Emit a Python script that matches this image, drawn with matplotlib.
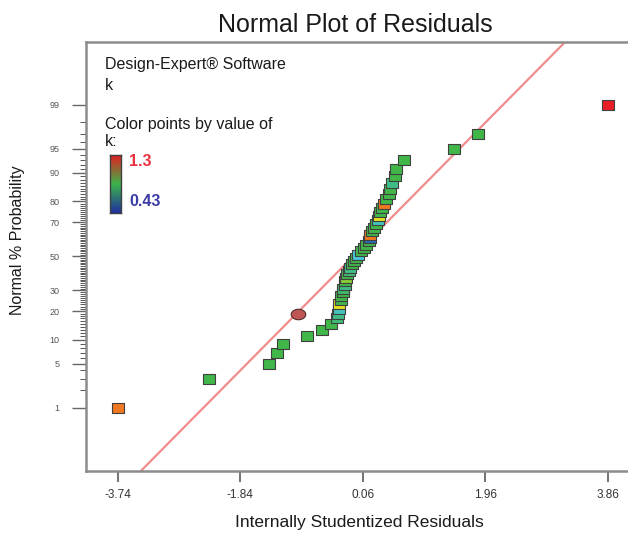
import numpy as np
import matplotlib
matplotlib.use("Agg")
import matplotlib.pyplot as plt
from matplotlib.path import Path
from matplotlib.colors import LinearSegmentedColormap, Normalize
from statistics import NormalDist

plt.rcParams['font.family'] = ['Liberation Sans', 'DejaVu Sans']

# ---------------- data ----------------
residuals = [-3.74, -2.32, -1.39, -1.27, -1.17, -0.80, -0.57, -0.43, -0.34, -0.32,
             -0.31, -0.30, -0.28, -0.27, -0.25, -0.24, -0.22, -0.21, -0.20, -0.18,
             -0.16, -0.13, -0.10, -0.07, -0.04, -0.02, 0.03, 0.08, 0.11, 0.15,
             0.17, 0.18, 0.21, 0.23, 0.26, 0.29, 0.31, 0.33, 0.36, 0.39,
             0.42, 0.46, 0.49, 0.51, 0.56, 0.57, 0.70, 1.47, 1.85, 3.86]
prob_pct = [1, 3, 5, 7, 9, 11, 13, 15, 17, 19, 21, 23, 25, 27, 29, 31, 33, 35, 37, 39,
            41, 43, 45, 47, 49, 51, 53, 55, 57, 59, 61, 63, 65, 67, 69, 71, 73, 75, 77, 79,
            81, 83, 85, 87, 89, 91, 93, 95, 97, 99]
k_values = [1.20, 0.87, 0.87, 0.87, 0.87, 0.87, 0.87, 0.87, 0.80, 0.78,
            0.70, 1.06, 0.87, 0.87, 0.87, 0.82, 0.78, 0.87, 0.96, 0.87,
            0.80, 0.78, 0.87, 0.87, 0.87, 0.66, 0.87, 0.87, 0.87, 0.87,
            0.50, 1.20, 0.87, 0.87, 0.87, 0.70, 1.06, 0.87, 0.87, 1.20,
            0.87, 0.87, 0.87, 0.78, 0.87, 0.87, 0.87, 0.87, 0.87, 1.30]
highlight_residual = [-0.95]
highlight_prob = [18.7]
line_mean = -0.087
line_sd = 1.0
k_min, k_max = 0.43, 1.3
x_ticks = [-3.74, -1.84, 0.06, 1.96, 3.86]
y_ticks = [1, 5, 10, 20, 30, 50, 70, 80, 90, 95, 99]

# ---------------- figure ----------------
W, H = 628, 533
fig = plt.figure(figsize=(W / 100, H / 100), dpi=100)
fig.patch.set_facecolor('white')

xlim = (-4.23, 4.35)
px_per_x = 64.5
ax_left, ax_top, ax_bottom = 86, 42, 470.5
ax_w = (xlim[1] - xlim[0]) * px_per_x
ax = fig.add_axes([ax_left / W, (H - ax_bottom) / H, ax_w / W, (ax_bottom - ax_top) / H])

nd = NormalDist()
_ppf = np.vectorize(nd.inv_cdf, otypes=[float])
_cdf = np.vectorize(nd.cdf, otypes=[float])


def fwd(p):
    p = np.clip(np.asarray(p, dtype=float) / 100.0, 1e-12, 1 - 1e-12)
    return _ppf(p)


def inv(z):
    return _cdf(np.asarray(z, dtype=float)) * 100.0


ax.set_yscale('function', functions=(fwd, inv))
zlim = 3.285
ax.set_ylim(nd.cdf(-zlim) * 100, nd.cdf(zlim) * 100)
ax.set_xlim(*xlim)

# reference line
zz = np.array([-3.5, 3.5])
ax.plot(line_mean + line_sd * zz, inv(zz), color='#f08c8c', lw=1.6, zorder=2,
        clip_on=True)

# colormap for points
cmap = LinearSegmentedColormap.from_list(
    'dx', [(0.0, '#1f3f9f'), (0.25, '#45c8e0'), (0.5, '#3db54a'),
           (0.75, '#f5e61e'), (1.0, '#e81e25')])
norm = Normalize(k_min, k_max)

rect = Path([(-1, -0.74), (1, -0.74), (1, 0.74), (-1, 0.74), (-1, -0.74)],
            [Path.MOVETO, Path.LINETO, Path.LINETO, Path.LINETO, Path.CLOSEPOLY])
for xv, pv, kv in zip(residuals, prob_pct, k_values):
    ax.plot([xv], [pv], linestyle='none', marker=rect, markersize=9.3,
            markerfacecolor=cmap(norm(kv)), markeredgecolor='#404040',
            markeredgewidth=0.8, zorder=3)

t = np.linspace(0, 2 * np.pi, 40)
ell = Path(np.column_stack([np.cos(t), 0.72 * np.sin(t)]))
ax.plot(highlight_residual, highlight_prob, linestyle='none', marker=ell,
        markersize=10.5, markerfacecolor='#c05555', markeredgecolor='#503030',
        markeredgewidth=0.8, zorder=3)

# spines
for s in ['left', 'bottom', 'top']:
    ax.spines[s].set_color('#8c8c8c')
    ax.spines[s].set_linewidth(1.8)
ax.spines['right'].set_visible(False)

# x ticks
ax.set_xticks(x_ticks)
ax.set_xticklabels([f'{v:.2f}' for v in x_ticks])
ax.tick_params(axis='x', which='major', direction='out', length=8, width=1.5,
               color='#777777', labelsize=8.5, labelcolor='#333333', pad=5)
ax.xaxis.set_minor_locator(matplotlib.ticker.NullLocator())

# y ticks
ax.set_yticks(y_ticks)
ax.set_yticklabels([str(v) for v in y_ticks])
minor = [v for v in range(2, 99) if v not in y_ticks]
ax.set_yticks(minor, minor=True)
ax.tick_params(axis='y', which='major', direction='out', length=10, width=1.0,
               color='#666666', labelsize=6.5, labelcolor='#555555', pad=9)
ax.tick_params(axis='y', which='minor', direction='out', length=4, width=0.7,
               color='#555555', labelleft=False)

# titles / labels
fig.text(355 / W, 1 - 25 / H, 'Normal Plot of Residuals', ha='center', va='center',
         fontsize=18, color='#1a1a1a')
fig.text(359 / W, 1 - 522 / H, 'Internally Studentized Residuals', ha='center',
         va='center', fontsize=12.5, color='#1a1a1a')
fig.text(18 / W, 1 - 240 / H, 'Normal % Probability', ha='center', va='center',
         rotation=90, fontsize=11.5, color='#1a1a1a')

# legend block
lx = 105 / W
for txt, yp in [('Design-Expert® Software', 65), ('k', 85),
                ('Color points by value of', 125), ('k:', 142)]:
    fig.text(lx, 1 - yp / H, txt, ha='left', va='center', fontsize=11.5,
             color='#1a1a1a')

leg_cmap = LinearSegmentedColormap.from_list('leg', ['#2030a0', '#3cb44a', '#e02020'])
cax = fig.add_axes([110 / W, 1 - 213 / H, 11 / W, 58 / H])
cax.imshow(np.linspace(1, 0, 100).reshape(-1, 1), aspect='auto', cmap=leg_cmap,
           extent=[0, 1, 0, 1])
cax.set_xticks([])
cax.set_yticks([])
for s in cax.spines.values():
    s.set_color('#404040')
    s.set_linewidth(1.0)
fig.text(129 / W, 1 - 161 / H, f'{k_max:g}', ha='left', va='center', fontsize=11.5,
         color='#e83040', fontweight='bold')
fig.text(129 / W, 1 - 202 / H, f'{k_min:g}', ha='left', va='center', fontsize=11.5,
         color='#3b3ba5', fontweight='bold')

fig.savefig('out.png', dpi=100, facecolor='white')
